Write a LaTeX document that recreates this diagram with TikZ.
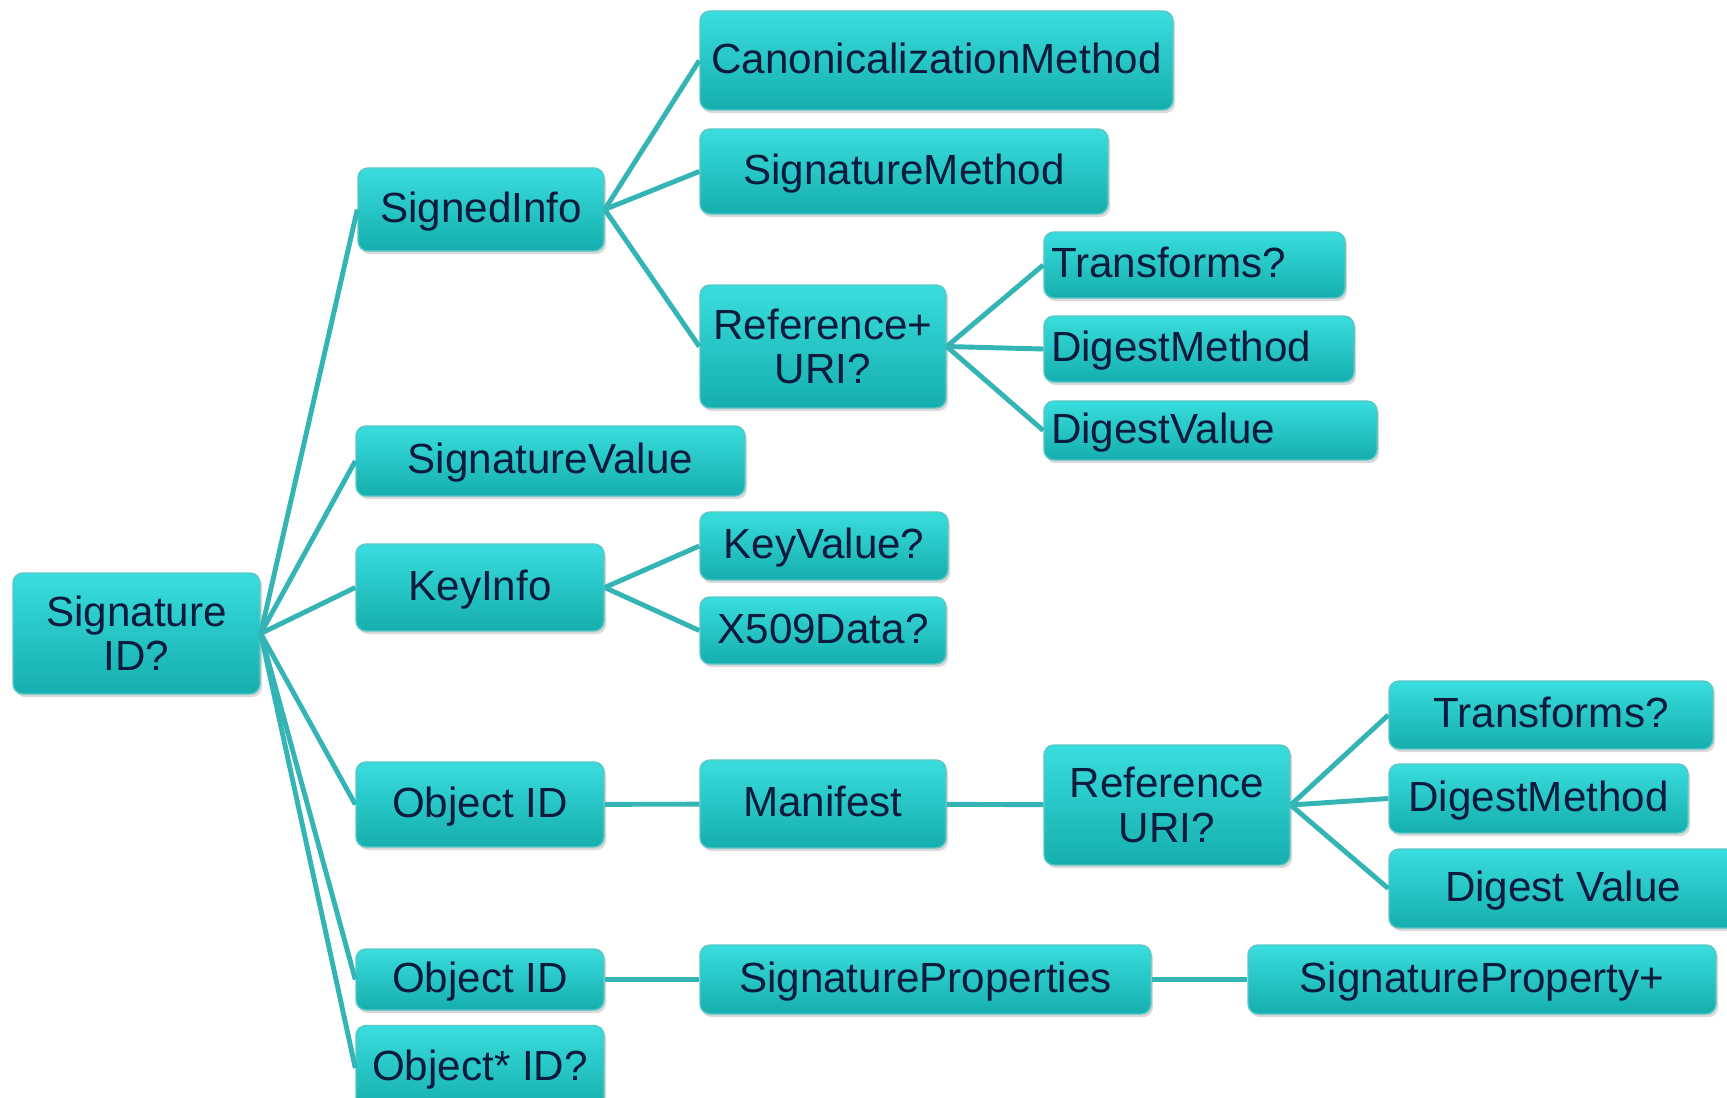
\documentclass[tikz,border=0pt]{standalone}
\usepackage{fontspec}
\setmainfont{Liberation Sans}
\usetikzlibrary{positioning,shadows}
\definecolor{topColor}{HTML}{3ADDDD}
\definecolor{bottomColor}{HTML}{15AEAE}
\definecolor{edgeColor}{HTML}{34B4B4}
\definecolor{txtColor}{HTML}{0B1B3D}
\tikzset{
	boxbase/.style={rounded corners=1mm, draw=bottomColor!70!white, top color=topColor,
		bottom color=bottomColor, text=txtColor, align=center, inner sep=1pt,
		font=\fontsize{12}{12.6}\selectfont,
		drop shadow={opacity=0.3, shadow xshift=0.6pt, shadow yshift=-0.9pt}},
	box/.style={boxbase, text height=0.72em, text depth=0pt},
	tallbox/.style={boxbase},
	leftbox/.style={box, align=left, inner xsep=2pt, text width=#1}
}

\begin{document}
\begin{tikzpicture}[every edge/.style={draw=edgeColor, line width=1.4pt}]
		\useasboundingbox (0,0) rectangle (17.27,-10.97);
		% root and first level
		\node[tallbox, minimum width=2.47cm, minimum height=1.21cm] (sig) at (1.365, -6.335) {Signature\\ID?};
		\node[box, minimum width=2.46cm, minimum height=0.83cm] (sinfo) at (4.81, -2.095) {SignedInfo};
		\node[box, minimum width=3.89cm, minimum height=0.70cm] (sval) at (5.505, -4.61) {SignatureValue};
		\node[box, minimum width=2.48cm, minimum height=0.87cm] (kinfo) at (4.80, -5.875) {KeyInfo};
		\node[box, minimum width=2.48cm, minimum height=0.85cm] (obj1) at (4.80, -8.045) {Object ID};
		\node[box, minimum width=2.48cm, minimum height=0.61cm] (obj2) at (4.80, -9.795) {Object ID};
		\node[box, minimum width=2.48cm, minimum height=0.85cm] (obj3) at (4.80, -10.68) {Object* ID?};
		% SignedInfo children
		\node[box, minimum width=4.73cm, minimum height=0.99cm] (canon) at (9.365, -0.605) {CanonicalizationMethod};
		\node[box, minimum width=4.08cm, minimum height=0.85cm] (smeth) at (9.04, -1.715) {SignatureMethod};
		\node[tallbox, minimum width=2.46cm, minimum height=1.23cm] (ref1) at (8.23, -3.465) {Reference+\\URI?};
		\node[leftbox=2.87cm, minimum height=0.66cm] (tr1) at (11.945, -2.65) {Transforms?};
		\node[leftbox=2.96cm, minimum height=0.66cm] (dm1) at (11.99, -3.49) {DigestMethod};
		\node[leftbox=3.19cm, minimum height=0.59cm] (dv1) at (12.105, -4.305) {DigestValue};
		% KeyInfo children
		\node[box, minimum width=2.48cm, minimum height=0.68cm] (kval) at (8.24, -5.46) {KeyValue?};
		\node[box, minimum width=2.46cm, minimum height=0.67cm] (x509) at (8.23, -6.305) {X509Data?};
		% Object children
		\node[box, minimum width=2.46cm, minimum height=0.88cm] (mani) at (8.23, -8.04) {Manifest};
		\node[tallbox, minimum width=2.46cm, minimum height=1.20cm] (ref2) at (11.67, -8.05) {Reference\\URI?};
		\node[box, minimum width=3.24cm, minimum height=0.68cm] (tr2) at (15.51, -7.15) {Transforms?};
		\node[box, minimum width=2.99cm, minimum height=0.69cm] (dm2) at (15.385, -7.985) {DigestMethod};
		\node[box, minimum width=3.48cm, minimum height=0.79cm] (dv2) at (15.63, -8.885) {Digest Value};
		\node[box, minimum width=4.51cm, minimum height=0.69cm] (sprops) at (9.255, -9.795) {SignatureProperties};
		\node[box, minimum width=4.68cm, minimum height=0.69cm] (sprop) at (14.82, -9.795) {SignatureProperty+};
		% connectors
		\path (sig.east) edge (sinfo.west) edge (sval.west) edge (kinfo.west)
			edge (obj1.west) edge (obj2.west) edge (obj3.west);
		\path (sinfo.east) edge (canon.west) edge (smeth.west) edge (ref1.west);
		\path (ref1.east) edge (tr1.west) edge (dm1.west) edge (dv1.west);
		\path (kinfo.east) edge (kval.west) edge (x509.west);
		\path (obj1) edge (mani);
		\path (mani) edge (ref2);
		\path (ref2.east) edge (tr2.west) edge (dm2.west) edge (dv2.west);
		\path (obj2) edge (sprops);
		\path (sprops) edge (sprop);
	\end{tikzpicture}
\end{document}
